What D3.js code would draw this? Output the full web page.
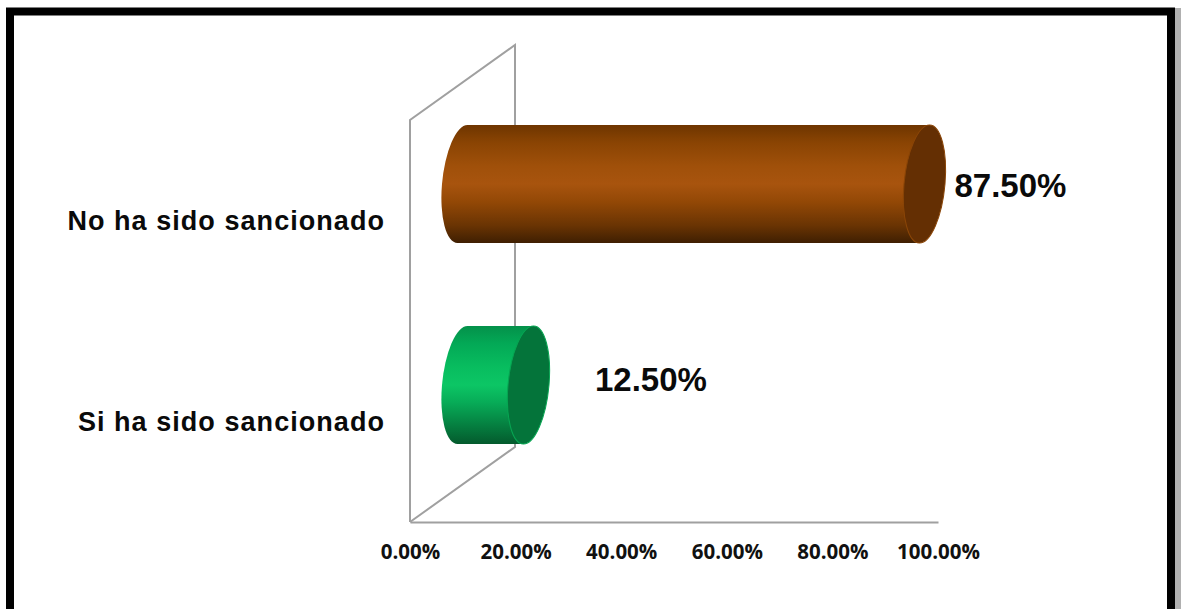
<!DOCTYPE html>
<html><head><meta charset="utf-8">
<script src="https://cdn.jsdelivr.net/npm/d3@7/dist/d3.min.js"></script>
<style>html,body{margin:0;padding:0;background:#fff}svg{display:block}</style>
</head><body><svg id="c" width="1181" height="609"></svg>
<script>
const categories = ["No ha sido sancionado", "Si ha sido sancionado"];
const values = [87.5, 12.5];
const ticks = [0, 20, 40, 60, 80, 100];
const bodyStops = [
  [["#6e3500",0],["#8a4403",.15],["#a0500a",.35],["#a8540e",.5],["#934806",.65],["#6a3403",.85],["#3f1f02",1]],
  [["#04914a",0],["#03a956",.15],["#08bd5f",.35],["#0cc665",.5],["#07ab57",.65],["#057d3f",.85],["#045a2d",1]]
];
const capColors = ["#642f03", "#04743a"];
const edgeColors = ["#8a4507", "#07a552"];

const W = 1181, H = 609;
const svg = d3.select("#c");
const x = d3.scaleLinear().domain([0,100]).range([410,938]);
const y = d3.scaleBand().domain(categories).range([120,522]);
const depthX = 105, depthY = -75;
const barH = 118, rx = 20.5, skew = -0.085, barShift = 1;
const gray = "#a0a0a0";

// frame
const frame = svg.append("g");
frame.append("rect").attr("x",1174).attr("y",8).attr("width",7).attr("height",H-8).attr("fill","#b0b0b0");
frame.append("rect").attr("x",10).attr("y",11.5).attr("width",1161).attr("height",H).attr("fill","#fff").attr("stroke","#000").attr("stroke-width",8);

// 3D walls
const [x0,x1] = x.range(), [yT,yB] = y.range();
const wall = d3.line();
svg.append("path").attr("fill","none").attr("stroke",gray).attr("stroke-width",2)
  .attr("d", wall([[x0,yB],[x0,yT],[x0+depthX,yT+depthY],[x0+depthX,yB+depthY],[x0,yB]]));

// axis
const axis = svg.append("g").attr("transform",`translate(0,${yB})`)
  .call(d3.axisBottom(x).tickValues(ticks).tickSize(0).tickPadding(22).tickFormat(d=>d3.format(".2f")(d)+"%"));
axis.select(".domain").attr("stroke",gray).attr("stroke-width",2);
axis.selectAll("text").attr("font-family","'Open Sans'").attr("font-weight",700).attr("font-size",20.5).attr("fill","#111");

// gradients
const defs = svg.append("defs");
bodyStops.forEach((stops,i)=>{
  const g = defs.append("linearGradient").attr("id","g"+i).attr("x1",0).attr("y1",0).attr("x2",0).attr("y2",1);
  stops.forEach(s=>g.append("stop").attr("offset",s[1]).attr("stop-color",s[0]));
});

// bars
categories.forEach((c,i)=>{
  const cy = y(c)+y.bandwidth()/2 + depthY/2 + barShift;
  const l = x(0)+depthX/2, r = x(values[i])+depthX/2;
  const t = cy-barH/2, b = cy+barH/2;
  const g = svg.append("g").attr("transform",`matrix(1,0,${skew},1,${-skew*cy},0)`);
  g.append("path").attr("fill",`url(#g${i})`)
    .attr("d",`M${r},${t}L${l},${t}A${rx},${barH/2} 0 0 0 ${l},${b}L${r},${b}Z`);
  g.append("ellipse").attr("cx",r).attr("cy",cy).attr("rx",rx).attr("ry",barH/2)
    .attr("fill",capColors[i]).attr("stroke",edgeColors[i]).attr("stroke-width",1);
});

// data labels
const labelPos = [[954.5,185],[595,379]];
categories.forEach((c,i)=>{
  svg.append("text").attr("x",labelPos[i][0]).attr("y",labelPos[i][1]).attr("dy","0.35em")
    .attr("font-family","'Liberation Sans'").attr("font-weight",700).attr("font-size",33).attr("fill","#0a0a0a")
    .text(d3.format(".2f")(values[i])+"%");
  svg.append("text").attr("x",385).attr("y",y(c)+y.bandwidth()/2).attr("dy","0.35em")
    .attr("text-anchor","end").attr("font-family","'Liberation Sans'").attr("font-weight",700)
    .attr("font-size",27).attr("letter-spacing",1.05).attr("fill","#0a0a0a").text(c);
});
</script></body></html>
